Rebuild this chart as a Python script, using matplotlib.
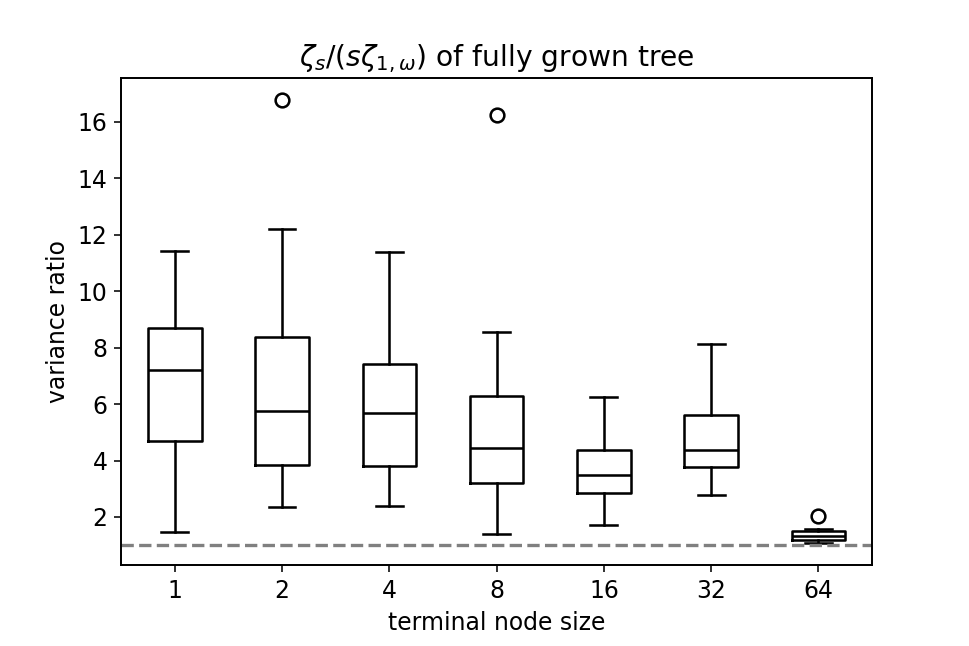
import matplotlib
matplotlib.use("Agg")
import matplotlib.pyplot as plt

# box summaries
node_sizes = ["1", "2", "4", "8", "16", "32", "64"]
whis_lo = [1.46, 2.35, 2.39, 1.38, 1.70, 2.78, 1.08]
q1 = [4.69, 3.85, 3.79, 3.20, 2.85, 3.77, 1.18]
med = [7.22, 5.77, 5.69, 4.45, 3.47, 4.36, 1.33]
q3 = [8.71, 8.37, 7.41, 6.27, 4.39, 5.60, 1.49]
whis_hi = [11.41, 12.22, 11.38, 8.55, 6.25, 8.14, 1.56]
fliers = [[], [16.78], [], [16.23], [], [], [2.02]]

plt.rcParams["font.size"] = 12
plt.rcParams["axes.linewidth"] = 1.0

stats = []
for i, lab in enumerate(node_sizes):
    stats.append(dict(label=lab, whislo=whis_lo[i], q1=q1[i], med=med[i],
                      q3=q3[i], whishi=whis_hi[i], fliers=fliers[i]))

lw = 1.3
dpi = 141
fig, ax = plt.subplots(figsize=(969 / dpi, 646 / dpi), dpi=dpi)
fig.subplots_adjust(left=0.125, right=0.9, bottom=0.125, top=0.88)
ax.bxp(stats,
       boxprops=dict(linewidth=lw),
       whiskerprops=dict(linewidth=lw),
       capprops=dict(linewidth=lw),
       medianprops=dict(color="black", linewidth=lw),
       flierprops=dict(markersize=7, markeredgewidth=lw))
# reference level: ratio of 1
ax.axhline(1, color="gray", linestyle="--", linewidth=1.7)
ax.set_ylim(0.29, 17.57)
ax.set_xlabel("terminal node size")
ax.set_ylabel("variance ratio")
ax.set_title(r"$\zeta_s/(s\zeta_{1,\omega})$ of fully grown tree")
fig.savefig("out.png", dpi=dpi)
